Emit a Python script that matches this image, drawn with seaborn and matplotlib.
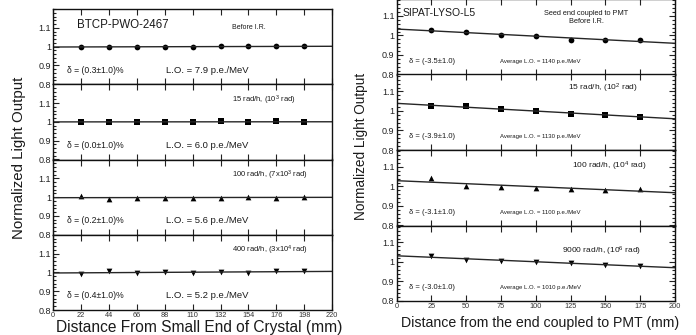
import numpy as np
import pandas as pd
import matplotlib
matplotlib.use("Agg")
import matplotlib.pyplot as plt
import seaborn as sns
from matplotlib.ticker import FixedLocator, MultipleLocator, FuncFormatter

sns.set_theme(style="ticks")
plt.rcParams['font.family'] = ['Liberation Sans', 'DejaVu Sans']
plt.rcParams['mathtext.fontset'] = 'custom'
plt.rcParams['mathtext.rm'] = 'Liberation Sans'
plt.rcParams['mathtext.it'] = 'Liberation Sans:italic'
plt.rcParams['mathtext.bf'] = 'Liberation Sans:bold'

# ---- PWO crystal: normalized light output along the crystal ----
pwo_pos = [22, 44, 66, 88, 110, 132, 154, 176, 198]
pwo_before = [1.000, 0.998, 0.999, 0.998, 0.999, 1.001, 1.001, 1.002, 1.001]
pwo_15 = [1.000, 1.000, 1.000, 1.001, 0.997, 1.004, 0.998, 1.003, 0.999]
pwo_100 = [1.008, 0.991, 0.993, 0.998, 0.993, 0.998, 1.000, 0.998, 1.002]
pwo_400 = [0.994, 1.005, 0.999, 1.004, 0.996, 1.000, 0.998, 1.005, 1.008]
pwo_ticks = [0, 22, 44, 66, 88, 110, 132, 154, 176, 198, 220]
pwo_dose = ["Before I.R.", "15 rad/h, (10$^3$ rad)",
            "100 rad/h, (7x10$^3$ rad)", "400 rad/h, (3x10$^4$ rad)"]
pwo_delta = ["δ = (0.3±1.0)%", "δ = (0.0±1.0)%", "δ = (0.2±1.0)%", "δ = (0.4±1.0)%"]
pwo_lo = ["L.O. = 7.9 p.e./MeV", "L.O. = 6.0 p.e./MeV",
          "L.O. = 5.6 p.e./MeV", "L.O. = 5.2 p.e./MeV"]

# ---- LYSO crystal: normalized light output vs distance from PMT end ----
lyso_pos = [25, 50, 75, 100, 125, 150, 175]
lyso_before = [1.028, 1.016, 1.002, 0.998, 0.977, 0.977, 0.977]
lyso_15 = [1.025, 1.025, 1.009, 1.002, 0.986, 0.979, 0.971]
lyso_100 = [1.044, 1.002, 0.998, 0.990, 0.986, 0.984, 0.988]
lyso_9000 = [1.031, 1.012, 1.005, 1.000, 0.993, 0.986, 0.981]
lyso_ticks = [0, 25, 50, 75, 100, 125, 150, 175, 200]
lyso_dose = ["Seed end coupled to PMT\nBefore I.R.", "15 rad/h, (10$^2$ rad)",
             "100 rad/h, (10$^4$ rad)", "9000 rad/h, (10$^6$ rad)"]
lyso_delta = ["δ = (-3.5±1.0)", "δ = (-3.9±1.0)", "δ = (-3.1±1.0)", "δ = (-3.0±1.0)"]
lyso_lo = ["Average L.O. = 1140 p.e./MeV", "Average L.O. = 1130 p.e./MeV",
           "Average L.O. = 1100 p.e./MeV", "Average L.O. = 1010 p.e./MeV"]

markers = ['o', 's', '^', 'v']
msizes = [17, 17, 17, 17]

W, H = 696, 335
fig = plt.figure(figsize=(W / 100, H / 100), dpi=100)


def make_stack(x0, x1, top, bottom):
    h = (bottom - top) / 4
    axes = []
    for i in range(4):
        t = top + h * i
        axes.append(fig.add_axes([x0 / W, 1 - (t + h) / H, (x1 - x0) / W, h / H]))
    return axes


def style_axis(ax, xlim, ylim, xticks, right_ticks, show_xlabels):
    ax.set_xlim(*xlim)
    ax.set_ylim(*ylim)
    ax.xaxis.set_major_locator(FixedLocator(xticks))
    ax.yaxis.set_major_locator(FixedLocator([0.8, 0.9, 1.0, 1.1]))
    ax.yaxis.set_minor_locator(MultipleLocator(0.02))
    ax.yaxis.set_major_formatter(FuncFormatter(lambda v, p: f"{v:g}"))
    ax.tick_params(which='both', direction='in', top=True, right=right_ticks,
                   color='#222', width=0.8)
    ax.tick_params(which='major', length=4.5)
    ax.tick_params(which='minor', length=2.2)
    ax.tick_params(axis='y', labelsize=6.5, pad=1.5, labelcolor='#222')
    ax.tick_params(axis='x', labelsize=5.3, pad=1.5, labelcolor='#333',
                   labelbottom=show_xlabels)
    for s in ax.spines.values():
        s.set_linewidth(1.0)
        s.set_color('#111')
    ax.set_xlabel("")
    ax.set_ylabel("")


# Left stack: PWO
left_axes = make_stack(53.3, 332, 9, 310)
pwo_sets = [pwo_before, pwo_15, pwo_100, pwo_400]
for i, ax in enumerate(left_axes):
    style_axis(ax, (0, 220), (0.8, 1.2), pwo_ticks, False, i == 3)
    df = pd.DataFrame({"pos": pwo_pos, "lo": pwo_sets[i]})
    sns.regplot(data=df, x="pos", y="lo", ax=ax, ci=None, truncate=False,
                marker=markers[i], color='black',
                scatter_kws=dict(s=msizes[i], alpha=1, linewidths=0),
                line_kws=dict(lw=1.0, color='#262626'))
    style_axis(ax, (0, 220), (0.8, 1.2), pwo_ticks, False, i == 3)
    ax.text(10.8, 0.875, pwo_delta[i], fontsize=6.2, va='center', color='#1a1a1a')
    ax.text(89, 0.875, pwo_lo[i], fontsize=6.8, va='center', color='#1a1a1a')
    if i == 0:
        ax.text(18.7, 1.115, "BTCP-PWO-2467", fontsize=8.3, va='center', color='#1a1a1a')
        ax.text(141, 1.1, pwo_dose[i], fontsize=5, va='center', color='#1a1a1a')
    else:
        ax.text(141, 1.117, pwo_dose[i], fontsize=5.5, va='center', color='#1a1a1a')
left_axes[3].set_xlabel("Distance From Small End of Crystal (mm)", fontsize=11.2,
                        labelpad=0.5, color='#1a1a1a')
left_axes[3].xaxis.label.set_x(0.523)

# Right stack: LYSO
right_axes = make_stack(396.7, 675, -1, 301)
lyso_sets = [lyso_before, lyso_15, lyso_100, lyso_9000]
for i, ax in enumerate(right_axes):
    style_axis(ax, (0, 200), (0.8, 1.187), lyso_ticks, True, i == 3)
    df = pd.DataFrame({"pos": lyso_pos, "lo": lyso_sets[i]})
    sns.regplot(data=df, x="pos", y="lo", ax=ax, ci=None, truncate=False,
                marker=markers[i], color='black',
                scatter_kws=dict(s=msizes[i], alpha=1, linewidths=0),
                line_kws=dict(lw=1.0, color='#262626'))
    style_axis(ax, (0, 200), (0.8, 1.187), lyso_ticks, True, i == 3)
    ax.text(8.8, 0.869, lyso_delta[i], fontsize=5.5, va='center', color='#1a1a1a')
    ax.text(74.3, 0.869, lyso_lo[i], fontsize=4.3, va='center', color='#1a1a1a')
    if i == 0:
        ax.text(4.5, 1.117, "SIPAT-LYSO-L5", fontsize=7.5, va='center', color='#1a1a1a')
        ax.text(136, 1.094, lyso_dose[i], fontsize=5.3, va='center', ha='center',
                linespacing=1.15, color='#1a1a1a')
    elif i == 1:
        ax.text(123, 1.117, lyso_dose[i], fontsize=6, va='center', color='#1a1a1a')
    elif i == 2:
        ax.text(126, 1.105, lyso_dose[i], fontsize=6, va='center', color='#1a1a1a')
    else:
        ax.text(119, 1.055, lyso_dose[i], fontsize=6, va='center', color='#1a1a1a')
right_axes[3].set_xlabel("Distance from the end coupled to PMT (mm)", fontsize=10.2,
                         labelpad=4, color='#1a1a1a')
right_axes[3].xaxis.label.set_x(0.515)

fig.text(19 / W, 1 - 157.5 / H, "Normalized Light Output", rotation=90, fontsize=10.8,
         ha='center', va='center', color='#1a1a1a')
fig.text(361 / W, 1 - 146.5 / H, "Normalized Light Output", rotation=90, fontsize=9.8,
         ha='center', va='center', color='#1a1a1a')

fig.savefig("out.png", dpi=100)
